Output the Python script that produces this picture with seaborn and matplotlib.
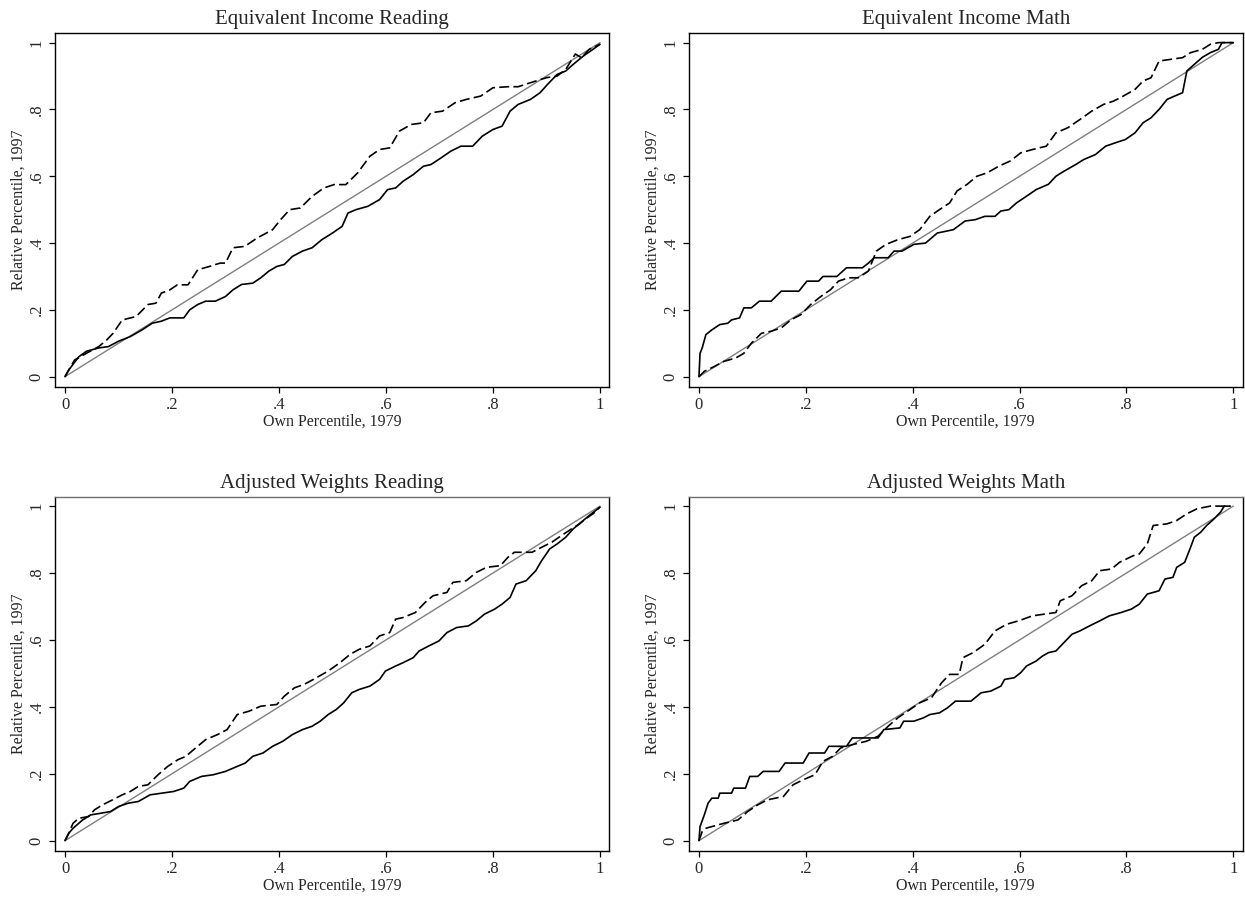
import matplotlib
matplotlib.use("Agg")
import matplotlib.pyplot as plt
import seaborn as sns
import numpy as np

# ---------------- data ----------------
titles = ["Equivalent Income Reading", "Equivalent Income Math",
          "Adjusted Weights Reading", "Adjusted Weights Math"]
tick_vals = [0, 0.2, 0.4, 0.6, 0.8, 1.0]
tick_labels = ["0", ".2", ".4", ".6", ".8", "1"]
xlabel = "Own Percentile, 1979"
ylabel = "Relative Percentile, 1997"
diag = [0, 1]

# Panel 1: Equivalent Income Reading
eir_dash_x = [0, 0.007, 0.018, 0.04, 0.063, 0.078, 0.09, 0.107, 0.133, 0.155, 0.17, 0.18, 0.196, 0.21, 0.23,
              0.248, 0.27, 0.29, 0.30, 0.314, 0.336, 0.359, 0.388, 0.403, 0.42, 0.44, 0.462, 0.484, 0.503,
              0.525, 0.547, 0.57, 0.588, 0.607, 0.625, 0.647, 0.67, 0.684, 0.706, 0.729, 0.75, 0.777, 0.80,
              0.828, 0.847, 0.87, 0.90, 0.92, 0.936, 0.954, 0.965, 0.98, 1.0]
eir_dash_y = [0, 0.02, 0.05, 0.07, 0.09, 0.11, 0.13, 0.17, 0.18, 0.216, 0.22, 0.25, 0.26, 0.275, 0.275,
              0.32, 0.33, 0.34, 0.34, 0.386, 0.39, 0.415, 0.44, 0.47, 0.50, 0.505, 0.54, 0.565, 0.575,
              0.575, 0.61, 0.66, 0.68, 0.685, 0.735, 0.755, 0.76, 0.79, 0.795, 0.82, 0.83, 0.84, 0.865,
              0.868, 0.868, 0.88, 0.895, 0.90, 0.92, 0.966, 0.955, 0.98, 0.995]
eir_sol_x = [0, 0.007, 0.026, 0.04, 0.063, 0.081, 0.1, 0.122, 0.144, 0.163, 0.18, 0.196, 0.222, 0.233, 0.248,
             0.263, 0.281, 0.30, 0.314, 0.33, 0.351, 0.366, 0.381, 0.396, 0.41, 0.425, 0.444, 0.462, 0.48,
             0.5, 0.518, 0.529, 0.544, 0.566, 0.588, 0.603, 0.618, 0.632, 0.651, 0.67, 0.684, 0.703, 0.721,
             0.74, 0.762, 0.78, 0.80, 0.817, 0.832, 0.847, 0.87, 0.888, 0.902, 0.92, 0.936, 0.95, 0.969,
             0.987, 1.0]
eir_sol_y = [0, 0.02, 0.06, 0.076, 0.086, 0.09, 0.106, 0.12, 0.14, 0.16, 0.166, 0.176, 0.176, 0.20, 0.216,
             0.226, 0.226, 0.24, 0.26, 0.276, 0.28, 0.296, 0.316, 0.33, 0.336, 0.36, 0.376, 0.386, 0.41,
             0.43, 0.45, 0.49, 0.50, 0.51, 0.53, 0.56, 0.565, 0.585, 0.605, 0.63, 0.635, 0.655, 0.675,
             0.69, 0.69, 0.72, 0.74, 0.75, 0.795, 0.815, 0.83, 0.85, 0.875, 0.905, 0.915, 0.935, 0.96,
             0.98, 0.995]

# Panel 2: Equivalent Income Math
eim_sol_x = [0, 0.002, 0.006, 0.013, 0.024, 0.039, 0.054, 0.061, 0.076, 0.084, 0.098, 0.113, 0.135, 0.154,
             0.187, 0.202, 0.224, 0.232, 0.258, 0.276, 0.306, 0.317, 0.328, 0.354, 0.365, 0.38, 0.402,
             0.424, 0.446, 0.476, 0.498, 0.517, 0.535, 0.554, 0.565, 0.58, 0.594, 0.609, 0.631, 0.654,
             0.668, 0.683, 0.705, 0.72, 0.742, 0.761, 0.779, 0.798, 0.816, 0.831, 0.846, 0.861, 0.876,
             0.89, 0.905, 0.913, 0.927, 0.942, 0.957, 0.972, 0.979, 1.0]
eim_sol_y = [0, 0.07, 0.086, 0.126, 0.14, 0.156, 0.16, 0.17, 0.176, 0.206, 0.206, 0.226, 0.226, 0.256,
             0.256, 0.286, 0.286, 0.30, 0.30, 0.326, 0.326, 0.34, 0.356, 0.356, 0.376, 0.376, 0.396,
             0.40, 0.43, 0.44, 0.466, 0.47, 0.48, 0.48, 0.496, 0.50, 0.52, 0.536, 0.56, 0.576,
             0.60, 0.615, 0.635, 0.65, 0.665, 0.69, 0.70, 0.71, 0.73, 0.76, 0.775, 0.80, 0.83,
             0.84, 0.85, 0.915, 0.935, 0.956, 0.97, 0.98, 1.0, 1.0]
eim_dash_x = [0, 0.01, 0.028, 0.047, 0.069, 0.084, 0.098, 0.117, 0.135, 0.154, 0.172, 0.191, 0.209, 0.228,
              0.246, 0.261, 0.28, 0.298, 0.317, 0.332, 0.35, 0.372, 0.395, 0.413, 0.432, 0.45, 0.469,
              0.483, 0.502, 0.52, 0.539, 0.561, 0.583, 0.602, 0.624, 0.65, 0.668, 0.69, 0.713, 0.735,
              0.757, 0.776, 0.794, 0.816, 0.831, 0.846, 0.861, 0.883, 0.905, 0.92, 0.942, 0.957, 0.972, 1.0]
eim_dash_y = [0, 0.016, 0.03, 0.046, 0.056, 0.07, 0.10, 0.13, 0.136, 0.146, 0.17, 0.186, 0.216, 0.24,
              0.26, 0.286, 0.296, 0.296, 0.316, 0.376, 0.396, 0.41, 0.42, 0.44, 0.48, 0.50, 0.52,
              0.556, 0.576, 0.60, 0.61, 0.63, 0.646, 0.67, 0.68, 0.69, 0.73, 0.745, 0.77, 0.795,
              0.815, 0.825, 0.84, 0.86, 0.885, 0.895, 0.945, 0.95, 0.955, 0.97, 0.98, 0.995, 1.0, 1.0]

# Panel 3: Adjusted Weights Reading
awr_dash_x = [0, 0.007, 0.015, 0.026, 0.044, 0.055, 0.07, 0.089, 0.107, 0.122, 0.137, 0.155, 0.174, 0.192,
              0.211, 0.226, 0.244, 0.263, 0.285, 0.303, 0.322, 0.344, 0.366, 0.396, 0.41, 0.429, 0.447,
              0.47, 0.492, 0.514, 0.533, 0.55, 0.57, 0.588, 0.607, 0.618, 0.632, 0.655, 0.673, 0.688,
              0.714, 0.725, 0.75, 0.769, 0.788, 0.814, 0.828, 0.84, 0.873, 0.891, 0.91, 0.928, 0.947,
              0.962, 0.973, 0.987, 1.0]
awr_dash_y = [0, 0.022, 0.052, 0.067, 0.072, 0.092, 0.107, 0.122, 0.137, 0.147, 0.162, 0.167, 0.197, 0.222,
              0.242, 0.252, 0.277, 0.302, 0.317, 0.332, 0.377, 0.387, 0.402, 0.407, 0.432, 0.457, 0.467,
              0.487, 0.507, 0.532, 0.557, 0.572, 0.582, 0.612, 0.622, 0.662, 0.667, 0.682, 0.712, 0.732,
              0.742, 0.772, 0.777, 0.802, 0.817, 0.822, 0.847, 0.862, 0.862, 0.877, 0.892, 0.912, 0.932,
              0.947, 0.962, 0.977, 0.997]
awr_sol_x = [0, 0.007, 0.015, 0.033, 0.048, 0.067, 0.085, 0.1, 0.118, 0.137, 0.159, 0.181, 0.203, 0.222,
             0.233, 0.255, 0.277, 0.30, 0.322, 0.337, 0.351, 0.37, 0.388, 0.407, 0.425, 0.444, 0.462,
             0.477, 0.492, 0.507, 0.521, 0.536, 0.55, 0.57, 0.588, 0.599, 0.618, 0.632, 0.651, 0.662,
             0.68, 0.699, 0.714, 0.732, 0.754, 0.769, 0.784, 0.803, 0.817, 0.832, 0.843, 0.862, 0.88,
             0.891, 0.906, 0.92, 0.936, 0.95, 0.965, 0.98, 1.0]
awr_sol_y = [0, 0.022, 0.037, 0.062, 0.077, 0.082, 0.087, 0.102, 0.112, 0.117, 0.137, 0.142, 0.147, 0.157,
             0.177, 0.192, 0.197, 0.207, 0.222, 0.232, 0.252, 0.262, 0.282, 0.297, 0.317, 0.332, 0.342,
             0.357, 0.377, 0.392, 0.412, 0.442, 0.452, 0.462, 0.482, 0.507, 0.522, 0.532, 0.547, 0.567,
             0.582, 0.597, 0.622, 0.637, 0.642, 0.657, 0.677, 0.692, 0.707, 0.727, 0.767, 0.777, 0.807,
             0.837, 0.872, 0.887, 0.907, 0.932, 0.952, 0.972, 0.997]

# Panel 4: Adjusted Weights Math
awm_sol_x = [0, 0.002, 0.01, 0.017, 0.024, 0.036, 0.039, 0.061, 0.065, 0.087, 0.095, 0.11, 0.12, 0.15,
             0.161, 0.195, 0.206, 0.235, 0.243, 0.276, 0.287, 0.335, 0.346, 0.376, 0.383, 0.402, 0.42,
             0.432, 0.45, 0.465, 0.48, 0.509, 0.528, 0.546, 0.565, 0.572, 0.59, 0.602, 0.613, 0.631,
             0.643, 0.654, 0.668, 0.68, 0.698, 0.713, 0.731, 0.75, 0.768, 0.79, 0.809, 0.824, 0.839,
             0.861, 0.872, 0.887, 0.894, 0.909, 0.92, 0.927, 0.939, 0.95, 0.964, 0.976, 0.983, 0.994]
awm_sol_y = [0, 0.042, 0.077, 0.112, 0.127, 0.127, 0.142, 0.142, 0.157, 0.157, 0.192, 0.192, 0.207, 0.207,
             0.232, 0.232, 0.262, 0.262, 0.282, 0.282, 0.307, 0.307, 0.332, 0.337, 0.357, 0.357, 0.367,
             0.377, 0.382, 0.397, 0.417, 0.417, 0.442, 0.447, 0.462, 0.482, 0.487, 0.502, 0.522, 0.537,
             0.552, 0.562, 0.567, 0.587, 0.617, 0.627, 0.642, 0.657, 0.672, 0.682, 0.692, 0.707, 0.737,
             0.747, 0.782, 0.787, 0.817, 0.832, 0.877, 0.907, 0.922, 0.942, 0.962, 0.982, 1.0, 1.0]
awm_dash_x = [0, 0.006, 0.013, 0.024, 0.047, 0.073, 0.091, 0.11, 0.128, 0.158, 0.176, 0.195, 0.217, 0.232,
              0.25, 0.265, 0.287, 0.313, 0.335, 0.354, 0.372, 0.395, 0.413, 0.435, 0.454, 0.469, 0.487,
              0.494, 0.513, 0.535, 0.554, 0.576, 0.598, 0.624, 0.646, 0.668, 0.676, 0.698, 0.716, 0.735,
              0.75, 0.772, 0.787, 0.813, 0.824, 0.839, 0.85, 0.876, 0.894, 0.913, 0.932, 0.957, 0.972, 0.994]
awm_dash_y = [0, 0.027, 0.037, 0.042, 0.052, 0.062, 0.087, 0.107, 0.122, 0.132, 0.167, 0.182, 0.197, 0.237,
              0.252, 0.277, 0.287, 0.297, 0.312, 0.342, 0.367, 0.392, 0.412, 0.427, 0.472, 0.497, 0.497,
              0.547, 0.562, 0.587, 0.627, 0.647, 0.657, 0.672, 0.677, 0.682, 0.717, 0.732, 0.762, 0.777,
              0.807, 0.812, 0.832, 0.852, 0.857, 0.887, 0.942, 0.947, 0.957, 0.977, 0.992, 1.0, 1.0, 1.0]

panels = [
    (eir_sol_x, eir_sol_y, eir_dash_x, eir_dash_y),
    (eim_sol_x, eim_sol_y, eim_dash_x, eim_dash_y),
    (awr_sol_x, awr_sol_y, awr_dash_x, awr_dash_y),
    (awm_sol_x, awm_sol_y, awm_dash_x, awm_dash_y),
]

# ---------------- style ----------------
sns.set_style("ticks")
plt.rcParams["font.family"] = ["Liberation Serif", "DejaVu Serif"]
plt.rcParams["axes.edgecolor"] = "black"
plt.rcParams["axes.linewidth"] = 1.0

fig = plt.figure(figsize=(12.45, 8.97), dpi=100)
positions = [
    [0.04418, 0.5689, 0.4452, 0.3940],
    [0.5534, 0.5689, 0.4447, 0.3940],
    [0.04418, 0.05162, 0.4452, 0.3946],
    [0.5534, 0.05162, 0.4447, 0.3946],
]

for i, (pos, title, (sx, sy, dx, dy)) in enumerate(zip(positions, titles, panels)):
    ax = fig.add_axes(pos)
    sns.lineplot(x=diag, y=diag, ax=ax, color="#7f7f7f", linewidth=1.0,
                 estimator=None, sort=False)
    sns.lineplot(x=dx, y=dy, ax=ax, color="black", linewidth=1.2,
                 linestyle=(0, (6, 2.5)), estimator=None, sort=False)
    sns.lineplot(x=sx, y=sy, ax=ax, color="black", linewidth=1.2,
                 estimator=None, sort=False)
    ax.set_xlim(-0.0187, 1.0174)
    ax.set_ylim(-0.030, 1.028)
    ax.set_xticks(tick_vals)
    ax.set_xticklabels(tick_labels, fontsize=12)
    ax.set_yticks(tick_vals)
    ax.set_yticklabels(tick_labels, fontsize=12, rotation=90, va="center")
    ax.tick_params(axis="both", length=4.5, width=0.9, color="black", pad=3)
    ax.set_xlabel(xlabel, fontsize=11.5)
    ax.set_ylabel(ylabel, fontsize=11.5)
    ax.xaxis.set_label_coords(0.5, -0.075)
    ax.yaxis.set_label_coords(-0.052, 0.5)
    ax.set_title(title, fontsize=15, pad=6.5)
    for s in ax.spines.values():
        s.set_visible(True)
        s.set_color("black")
        s.set_linewidth(1.0)
    if i >= 2:
        ax.spines["top"].set_color("#707070")

fig.savefig("out.png", dpi=100)
